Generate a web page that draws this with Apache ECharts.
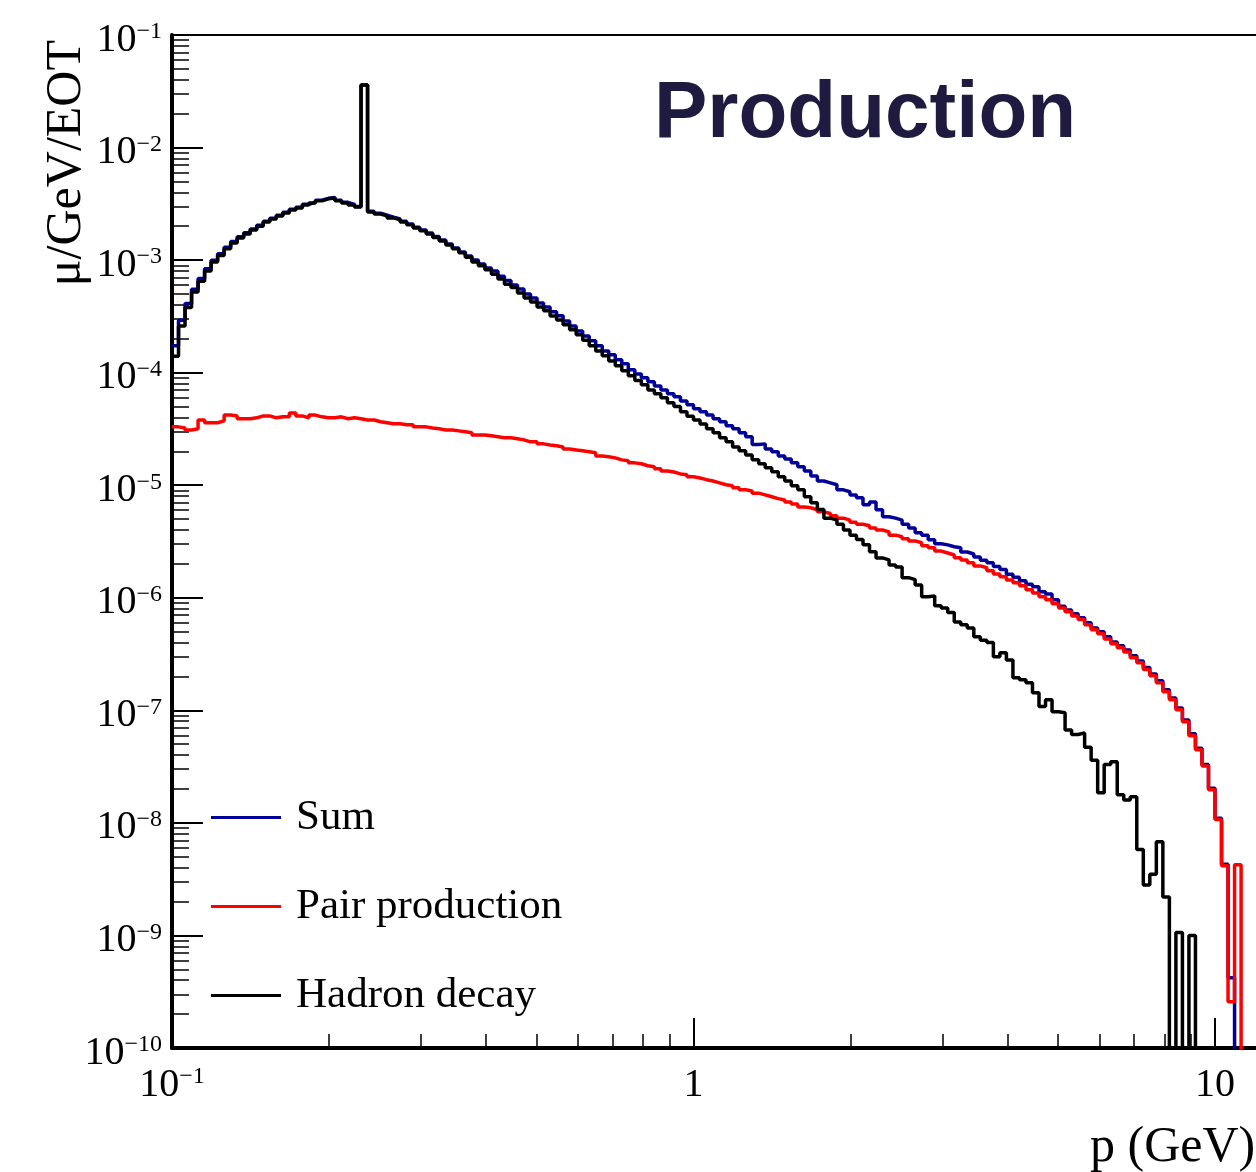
<!DOCTYPE html>
<html>
<head>
<meta charset="utf-8">
<script src="https://cdn.jsdelivr.net/npm/echarts@6/dist/echarts.min.js"></script>
<style>
html,body{margin:0;padding:0;background:#ffffff;}
#chart{width:1256px;height:1172px;}
</style>
</head>
<body>
<div id="chart"></div>
<script>
// ---- binning (logarithmic, 80 bins per decade starting at 0.1 GeV) ----
const P_MIN = 0.1;
const BINS_PER_DECADE = 80;

// ---- tick definitions ----
const xMajorTicks = [0.1, 1, 10];
const minorMultipliers = [2, 3, 4, 5, 6, 7, 8, 9];
const xMinorDecades = [-1, 0];
const yMinorDecades = [-10, -9, -8, -7, -6, -5, -4, -3, -2];

// ---- series (mu / GeV / EOT per bin; 0 = empty bin) ----
const sumTotal = [
1.73e-4,2.92e-4,4.11e-4,5.52e-4,6.88e-4,8.36e-4,9.96e-4,1.14e-3,1.30e-3,1.46e-3,
1.61e-3,1.75e-3,1.89e-3,2.04e-3,2.22e-3,2.36e-3,2.51e-3,2.66e-3,2.83e-3,2.95e-3,
3.13e-3,3.26e-3,3.40e-3,3.54e-3,3.60e-3,3.40e-3,3.26e-3,3.13e-3,3.00e-3,3.6e-2,
2.72e-3,2.61e-3,2.51e-3,2.41e-3,2.32e-3,2.21e-3,2.09e-3,1.96e-3,1.85e-3,1.74e-3,
1.62e-3,1.51e-3,1.39e-3,1.28e-3,1.18e-3,1.09e-3,1.0e-3,9.25e-4,8.5e-4,8.0e-4,
7.2e-4,6.6e-4,6.0e-4,5.55e-4,5.0e-4,4.6e-4,4.16e-4,3.84e-4,3.47e-4,3.2e-4,
2.88e-4,2.6e-4,2.35e-4,2.12e-4,1.92e-4,1.73e-4,1.56e-4,1.44e-4,1.3e-4,1.2e-4,
1.06e-4,9.75e-5,9.0e-5,8.3e-5,7.6e-5,7.0e-5,6.5e-5,6.1e-5,5.6e-5,5.2e-5,
4.77e-5,4.5e-5,4.2e-5,3.9e-5,3.66e-5,3.37e-5,3.17e-5,2.92e-5,2.7e-5,2.3e-5,
2.33e-5,2.1e-5,1.98e-5,1.82e-5,1.71e-5,1.58e-5,1.46e-5,1.34e-5,1.21e-5,1.09e-5,
1.05e-5,1.01e-5,9.1e-6,8.75e-6,8.2e-6,7.75e-6,6.7e-6,7.1e-6,6.05e-6,5.25e-6,
5.1e-6,4.9e-6,4.5e-6,4.17e-6,3.78e-6,3.6e-6,3.27e-6,3.02e-6,2.95e-6,2.84e-6,
2.78e-6,2.55e-6,2.45e-6,2.3e-6,2.15e-6,2.05e-6,1.9e-6,1.78e-6,1.62e-6,1.52e-6,
1.42e-6,1.32e-6,1.25e-6,1.13e-6,1.08e-6,9.6e-7,8.4e-7,7.8e-7,7.2e-7,6.65e-7,
6.0e-7,5.4e-7,5.0e-7,4.5e-7,4.05e-7,3.75e-7,3.43e-7,3.05e-7,2.75e-7,2.4e-7,
2.1e-7,1.83e-7,1.52e-7,1.29e-7,1.05e-7,8.2e-8,6.2e-8,4.6e-8,3.3e-8,2.03e-8,
1.1e-8,4.3e-9,4.2e-10,0,0,0,0,0
];

const pairProduction = [
3.3e-5,3.23e-5,3.1e-5,3.17e-5,3.8e-5,3.59e-5,3.59e-5,3.73e-5,4.2e-5,4.13e-5,
3.9e-5,3.9e-5,3.97e-5,4.13e-5,4.13e-5,3.97e-5,4.05e-5,4.05e-5,4.38e-5,4.13e-5,
3.97e-5,4.2e-5,4.05e-5,3.97e-5,3.97e-5,4.05e-5,3.9e-5,3.97e-5,3.9e-5,3.8e-5,
3.8e-5,3.66e-5,3.59e-5,3.52e-5,3.52e-5,3.44e-5,3.44e-5,3.3e-5,3.3e-5,3.23e-5,
3.17e-5,3.1e-5,3.1e-5,3.04e-5,2.98e-5,2.92e-5,2.8e-5,2.8e-5,2.75e-5,2.7e-5,
2.64e-5,2.64e-5,2.59e-5,2.53e-5,2.43e-5,2.43e-5,2.33e-5,2.28e-5,2.24e-5,2.19e-5,
2.1e-5,2.06e-5,2.02e-5,1.98e-5,1.94e-5,1.82e-5,1.79e-5,1.75e-5,1.68e-5,1.65e-5,
1.58e-5,1.55e-5,1.49e-5,1.46e-5,1.4e-5,1.34e-5,1.31e-5,1.26e-5,1.24e-5,1.19e-5,
1.16e-5,1.12e-5,1.09e-5,1.05e-5,1.01e-5,9.9e-6,9.5e-6,9.1e-6,8.9e-6,8.5e-6,
8.2e-6,7.9e-6,7.6e-6,7.4e-6,7.1e-6,6.8e-6,6.4e-6,6.3e-6,6.05e-6,5.8e-6,
5.6e-6,5.35e-6,5.1e-6,4.9e-6,4.7e-6,4.5e-6,4.36e-6,4.17e-6,4.0e-6,3.85e-6,
3.6e-6,3.48e-6,3.34e-6,3.2e-6,3.08e-6,2.9e-6,2.78e-6,2.6e-6,2.5e-6,2.4e-6,
2.27e-6,2.17e-6,2.05e-6,1.92e-6,1.85e-6,1.74e-6,1.63e-6,1.54e-6,1.44e-6,1.36e-6,
1.28e-6,1.18e-6,1.1e-6,1.02e-6,9.6e-7,8.85e-7,8.1e-7,7.5e-7,6.9e-7,6.4e-7,
5.75e-7,5.2e-7,4.8e-7,4.3e-7,3.9e-7,3.6e-7,3.3e-7,2.93e-7,2.65e-7,2.3e-7,
2.03e-7,1.76e-7,1.46e-7,1.24e-7,1.01e-7,7.9e-8,5.95e-8,4.46e-8,3.2e-8,1.97e-8,
1.07e-8,4.16e-9,2.58e-10,4.25e-9,0,0,0,0
];

const hadronDecay = [
1.4e-4,2.6e-4,3.8e-4,5.2e-4,6.5e-4,8.0e-4,9.6e-4,1.1e-3,1.26e-3,1.42e-3,
1.57e-3,1.71e-3,1.85e-3,2.0e-3,2.18e-3,2.32e-3,2.47e-3,2.62e-3,2.79e-3,2.91e-3,
3.09e-3,3.22e-3,3.36e-3,3.5e-3,3.56e-3,3.36e-3,3.22e-3,3.09e-3,2.96e-3,3.6e-2,
2.68e-3,2.57e-3,2.47e-3,2.37e-3,2.28e-3,2.18e-3,2.06e-3,1.93e-3,1.82e-3,1.71e-3,
1.59e-3,1.48e-3,1.36e-3,1.26e-3,1.16e-3,1.06e-3,9.6e-4,8.9e-4,8.2e-4,7.5e-4,
6.8e-4,6.1e-4,5.7e-4,5.1e-4,4.6e-4,4.25e-4,3.84e-4,3.54e-4,3.19e-4,2.94e-4,
2.66e-4,2.4e-4,2.17e-4,1.94e-4,1.73e-4,1.56e-4,1.41e-4,1.27e-4,1.15e-4,1.04e-4,
9.4e-5,8.5e-5,7.8e-5,7.0e-5,6.5e-5,6.0e-5,5.4e-5,5.0e-5,4.5e-5,4.1e-5,
3.8e-5,3.5e-5,3.17e-5,2.92e-5,2.64e-5,2.43e-5,2.19e-5,2.02e-5,1.86e-5,1.68e-5,
1.55e-5,1.43e-5,1.32e-5,1.19e-5,1.09e-5,9.9e-6,9.1e-6,7.9e-6,7.0e-6,6.1e-6,
5.1e-6,4.9e-6,4.5e-6,4.0e-6,3.6e-6,3.3e-6,2.96e-6,2.56e-6,2.26e-6,2.17e-6,
1.96e-6,1.88e-6,1.51e-6,1.45e-6,1.30e-6,1.02e-6,1.04e-6,8.5e-7,8.1e-7,7.4e-7,
6.1e-7,5.75e-7,5.4e-7,4.5e-7,4.2e-7,4.0e-7,3.0e-7,3.25e-7,2.8e-7,1.95e-7,
1.87e-7,1.76e-7,1.43e-7,1.08e-7,1.24e-7,9.7e-8,9.5e-8,6.7e-8,6.1e-8,6.3e-8,
4.7e-8,3.6e-8,1.85e-8,3.3e-8,3.5e-8,1.78e-8,1.6e-8,1.71e-8,5.8e-9,2.8e-9,
3.5e-9,6.8e-9,2.2e-9,0,1.06e-9,0,1.0e-9,0,0,0,
0,0,0,0,0,0,0,0
];

const seriesNames = ['Sum', 'Pair production', 'Hadron decay'];
const seriesColors = ['#000099', '#ff0000', '#000000'];

// ---- helpers ----
const EMPTY_FLOOR = 1e-13; // empty bins drop below the axis (clipped)
function binEdge(i) { return P_MIN * Math.pow(10, i / BINS_PER_DECADE); }
function stepData(values) {
  const pts = values.map((v, i) => [binEdge(i), v > 0 ? v : EMPTY_FLOOR]);
  const last = values[values.length - 1];
  pts.push([binEdge(values.length), last > 0 ? last : EMPTY_FLOOR]);
  return pts;
}
const xMinorLog = [];
xMinorDecades.forEach(d => minorMultipliers.forEach(m => xMinorLog.push(d + Math.log10(m))));
const yMinorLog = [];
yMinorDecades.forEach(d => minorMultipliers.forEach(m => yMinorLog.push(d + Math.log10(m))));

const SERIF = 'Liberation Serif';
const richLabel = {
  b: { fontFamily: SERIF, fontSize: 40, color: '#000', lineHeight: 50, padding: [10, 0, 0, 0] },
  s: { fontFamily: SERIF, fontSize: 24, color: '#000', lineHeight: 24, verticalAlign: 'top', padding: [10, 0, 0, 0] }
};
function powLabel(v) {
  const e = Math.round(Math.log10(v));
  if (e < 0) return '{b|10}{s|\u2212' + (-e) + '}';
  return '{b|' + Math.round(v) + '}';
}

const X_MIN = 0.1, X_MAX = 20, Y_MIN = 1e-10, Y_MAX = 1e-1;

const chart = echarts.init(document.getElementById('chart'), null, { renderer: 'canvas' });
chart.setOption({
  animation: false,
  backgroundColor: '#ffffff',
  title: {
    text: 'Production',
    left: 654, top: 75, padding: 0,
    textStyle: { fontFamily: 'Liberation Sans', fontWeight: 'bold', fontSize: 80, color: '#1f1a40' }
  },
  legend: seriesNames.map((n, i) => ({
    data: [n],
    left: 211,
    top: [796, 885, 974][i],
    padding: 0,
    orient: 'vertical',
    icon: 'rect',
    itemWidth: 70,
    itemHeight: 3,
    selectedMode: false,
    textStyle: { fontFamily: SERIF, fontSize: 43, color: '#000', padding: [12, 0, 0, 10] }
  })),
  grid: {
    left: 172, top: 35, width: 1200, height: 1013,
    containLabel: false, outerBoundsMode: 'none',
    show: true, borderColor: '#000', borderWidth: 2, backgroundColor: 'transparent'
  },
  xAxis: [
    {
      type: 'log', logBase: 10, min: X_MIN, max: X_MAX, position: 'bottom',
      axisLine: { show: true, onZero: false, lineStyle: { color: '#000', width: 4 } },
      axisTick: { show: true, inside: true, length: 30, lineStyle: { color: '#000', width: 2 } },
      minorTick: { show: false },
      splitLine: { show: false },
      axisLabel: { show: true, margin: 7, formatter: powLabel, rich: richLabel },
      name: 'p (GeV)', nameLocation: 'end', nameGap: -282, nameMoveOverlap: false,
      nameTextStyle: { fontFamily: SERIF, fontSize: 50, color: '#000', align: 'left', verticalAlign: 'top', padding: [75, 0, 0, 0] }
    },
    {
      type: 'value', min: -1, max: Math.log10(X_MAX), position: 'bottom',
      axisLine: { show: false, onZero: false }, splitLine: { show: false }, axisLabel: { show: false },
      axisTick: { show: true, inside: true, length: 14, customValues: xMinorLog, lineStyle: { color: '#000', width: 1.5 } }
    }
  ],
  yAxis: [
    {
      type: 'log', logBase: 10, min: Y_MIN, max: Y_MAX, position: 'left',
      axisLine: { show: true, onZero: false, lineStyle: { color: '#000', width: 4 } },
      axisTick: { show: true, inside: true, length: 31, lineStyle: { color: '#000', width: 2 } },
      minorTick: { show: false },
      splitLine: { show: false },
      axisLabel: { show: true, margin: 10, formatter: powLabel, rich: richLabel },
      name: '\u03bc/GeV/EOT', nameLocation: 'end', nameGap: -5, nameRotate: 90, nameMoveOverlap: false,
      nameTextStyle: { fontFamily: SERIF, fontSize: 50, color: '#000', align: 'right', verticalAlign: 'bottom', padding: [0, 0, 80, 0] }
    },
    {
      type: 'value', min: -10, max: -1, position: 'left',
      axisLine: { show: false, onZero: false }, splitLine: { show: false }, axisLabel: { show: false },
      axisTick: { show: true, inside: true, length: 17, customValues: yMinorLog, lineStyle: { color: '#000', width: 1.5 } }
    }
  ],
  series: [sumTotal, pairProduction, hadronDecay].map((vals, i) => ({
    type: 'line',
    name: seriesNames[i],
    data: stepData(vals),
    xAxisIndex: 0, yAxisIndex: 0,
    step: 'end',
    symbol: 'none', showSymbol: false,
    clip: true, silent: true,
    z: 2 + i,
    lineStyle: { color: seriesColors[i], width: 3.5 },
    itemStyle: { color: seriesColors[i] }
  }))
});
</script>
</body>
</html>
